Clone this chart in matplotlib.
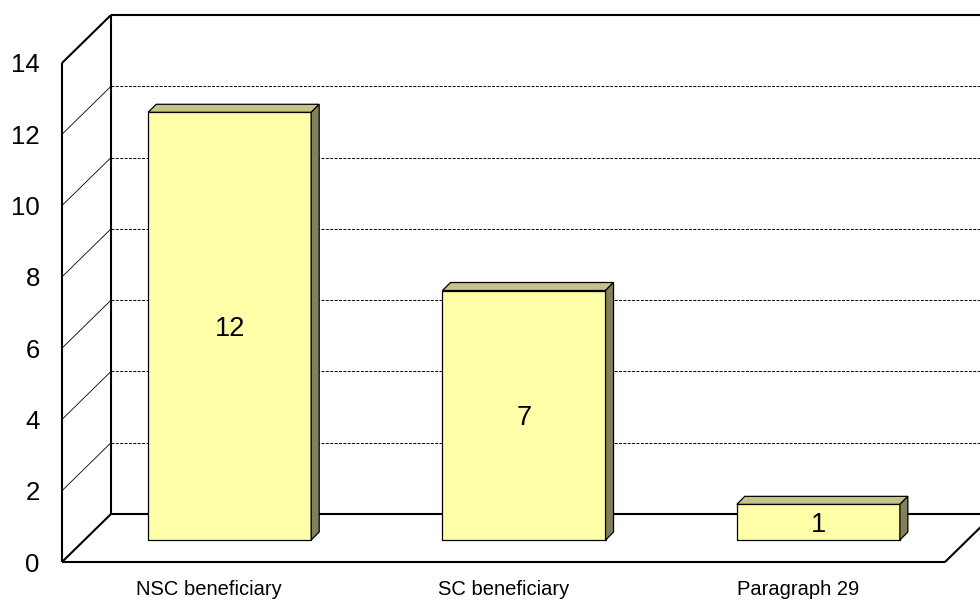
import matplotlib.pyplot as plt
from matplotlib.patches import Rectangle, Polygon

plt.rcParams['font.family'] = ['Liberation Sans', 'DejaVu Sans']

categories = ["NSC beneficiary", "SC beneficiary", "Paragraph 29"]
counts = [12, 7, 1]
y_ticks = [0, 2, 4, 6, 8, 10, 12, 14]

FRONT_COL = '#FFFFAA'
TOP_COL = '#C4C488'
SIDE_COL = '#80805C'

fig = plt.figure(figsize=(9.8, 6), dpi=100)
ax = fig.add_axes([62 / 980, 38 / 600, 883 / 980, 499 / 600])
ax.set_xlim(-0.5, len(categories) - 0.5)
ax.set_ylim(0, 14)
ax.patch.set_visible(False)
for s in ax.spines.values():
    s.set_visible(False)


def off(dx_px, dy_px):
    # pixel offset -> data offset
    inv = ax.transData.inverted()
    x0, y0 = inv.transform((0, 0))
    x1, y1 = inv.transform((dx_px, dy_px))
    return x1 - x0, y1 - y0


bx, by = off(49, 48)      # back wall depth
cx, cy = off(20.5, 22)    # bar plane depth
dx, dy = off(8, 8)        # bar thickness

xl, xr = ax.get_xlim()
ytop = y_ticks[-1]


def line(xs, ys, **kw):
    kw.setdefault('color', 'black')
    kw.setdefault('lw', 1.5)
    ax.plot(xs, ys, clip_on=False, solid_capstyle='butt', **kw)


# back wall grid + side wall grid
for v in y_ticks[1:-1]:
    line([xl + bx, xr + bx], [v + by, v + by], lw=0.7, ls=(0, (3, 1.5)), zorder=1)
    line([xl, xl + bx], [v, v + by], lw=0.6, zorder=1)

# back wall frame
line([xl + bx, xr + bx], [ytop + by, ytop + by], zorder=2)
line([xl + bx, xl + bx], [by, ytop + by], zorder=2)
line([xl + bx, xr + bx], [by, by], zorder=2)
line([xr + bx, xr + bx], [by, ytop + by], zorder=2)

# side wall and floor edges
line([xl, xl + bx], [ytop, ytop + by], zorder=2)
line([xl, xl + bx], [0, by], zorder=2)
line([xl, xl], [0, ytop], zorder=2)
line([xl, xr], [0, 0], zorder=2)
line([xr, xr + bx], [0, by], zorder=2)

# 3D bars
w = 0.554
for i, v in enumerate(counts):
    x0 = i - w / 2 + cx
    y0 = cy
    ax.add_patch(Rectangle((x0, y0), w, v, facecolor=FRONT_COL, edgecolor='black',
                           lw=0.9, zorder=5, clip_on=False))
    ax.add_patch(Polygon([(x0, y0 + v), (x0 + w, y0 + v), (x0 + w + dx, y0 + v + dy),
                          (x0 + dx, y0 + v + dy)], closed=True, facecolor=TOP_COL,
                         edgecolor='black', lw=0.9, zorder=5, clip_on=False))
    ax.add_patch(Polygon([(x0 + w, y0), (x0 + w, y0 + v), (x0 + w + dx, y0 + v + dy),
                          (x0 + w + dx, y0 + dy)], closed=True, facecolor=SIDE_COL,
                         edgecolor='black', lw=0.9, zorder=5, clip_on=False))
    ax.text(i + cx, y0 + v / 2, str(v), ha='center', va='center_baseline',
            fontsize=19.5, zorder=6)

ax.set_yticks(y_ticks)
ax.set_yticklabels([str(t) for t in y_ticks], fontsize=18.5)
ax.set_xticks(range(len(categories)))
ax.set_xticklabels(categories, fontsize=14.5)
ax.tick_params(axis='y', length=0, pad=16)
ax.tick_params(axis='x', length=0, pad=13)

fig.savefig('out.png', dpi=100)
